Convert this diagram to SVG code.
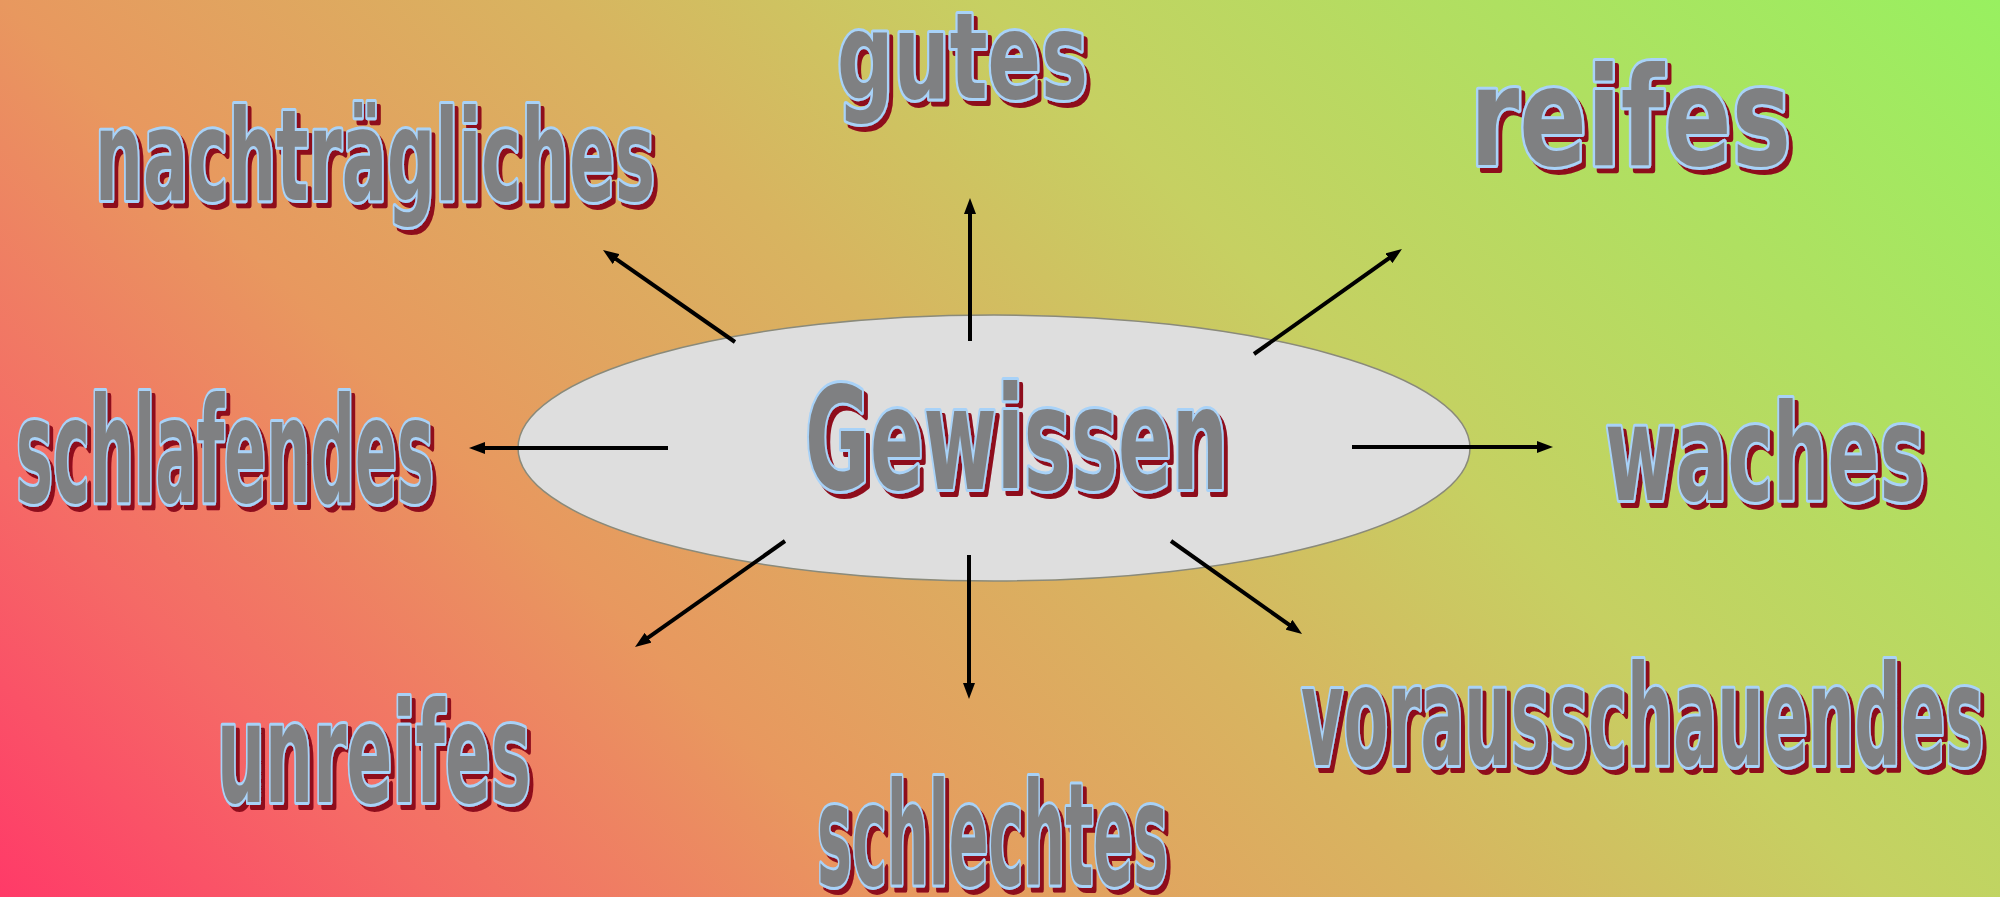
<svg xmlns="http://www.w3.org/2000/svg" width="2000" height="897" viewBox="0 0 2000 897">
<style>
.lbl{font-family:"Liberation Sans Narrow","DejaVu Sans Condensed","Liberation Sans",sans-serif;font-weight:bold;filter:url(#shadow)}
.tx{fill:#7f8082;stroke:#a8d2f8;stroke-width:6;paint-order:stroke;stroke-linejoin:round}
.con{stroke:#000;stroke-width:4;fill:none;marker-end:url(#ah)}
</style>
<defs>
<linearGradient id="bg" gradientUnits="userSpaceOnUse" x1="0" y1="897" x2="1448" y2="-551">
<stop offset="0" stop-color="#ff3a68"/>
<stop offset="0.15" stop-color="#f56a66"/>
<stop offset="0.31" stop-color="#e8985f"/>
<stop offset="0.5" stop-color="#d8b460"/>
<stop offset="0.65" stop-color="#c6d062"/>
<stop offset="1" stop-color="#98f060"/>
</linearGradient>
<filter id="shadow" x="-5%" y="-15%" width="112%" height="135%">
<feFlood flood-color="#8e0a1c"/>
<feComposite in2="SourceAlpha" operator="in"/>
<feOffset dx="4" dy="5"/>
<feMerge><feMergeNode/><feMergeNode in="SourceGraphic"/></feMerge>
</filter>
<marker id="ah" viewBox="0 0 16 12" refX="6" refY="6" markerUnits="userSpaceOnUse" markerWidth="16" markerHeight="12" orient="auto">
<path d="M0,0 L16,6 L0,12 z" fill="#000"/>
</marker>
</defs>
<rect x="0" y="0" width="2000" height="897" fill="url(#bg)"/>
<g id="center">
<ellipse cx="994" cy="448" rx="476" ry="133" fill="#dedede" stroke="#8a8a7a" stroke-width="1.5"/>
<text class="lbl tx" x="805" y="489" font-size="142" textLength="423" lengthAdjust="spacingAndGlyphs">Gewissen</text>
</g>
<g id="connectors">
<line class="con" x1="970" y1="341" x2="970" y2="208"/>
<line class="con" x1="735" y1="342" x2="611.2" y2="255.7"/>
<line class="con" x1="1254" y1="354" x2="1393.8" y2="254.8"/>
<line class="con" x1="668" y1="448" x2="479" y2="448"/>
<line class="con" x1="1352" y1="447" x2="1543" y2="447"/>
<line class="con" x1="785" y1="541" x2="643.2" y2="641.2"/>
<line class="con" x1="969" y1="555" x2="969" y2="689"/>
<line class="con" x1="1171" y1="541" x2="1293.9" y2="628.2"/>
</g>
<g id="nachtraegliches">
<text class="lbl tx" x="95" y="200" font-size="126" textLength="560" lengthAdjust="spacingAndGlyphs">nachträgliches</text>
</g>
<g id="gutes">
<text class="lbl tx" x="837" y="98" font-size="120" textLength="251" lengthAdjust="spacingAndGlyphs">gutes</text>
</g>
<g id="reifes">
<text class="lbl tx" x="1470" y="165" font-size="138" textLength="321" lengthAdjust="spacingAndGlyphs">reifes</text>
</g>
<g id="schlafendes">
<text class="lbl tx" x="16" y="502" font-size="146" textLength="418" lengthAdjust="spacingAndGlyphs">schlafendes</text>
</g>
<g id="waches">
<text class="lbl tx" x="1605" y="500" font-size="133" textLength="320" lengthAdjust="spacingAndGlyphs">waches</text>
</g>
<g id="unreifes">
<text class="lbl tx" x="217" y="802" font-size="139" textLength="314" lengthAdjust="spacingAndGlyphs">unreifes</text>
</g>
<g id="schlechtes">
<text class="lbl tx" x="817" y="885" font-size="143" textLength="351" lengthAdjust="spacingAndGlyphs">schlechtes</text>
</g>
<g id="vorausschauendes">
<text class="lbl tx" x="1301" y="765" font-size="139" textLength="683" lengthAdjust="spacingAndGlyphs">vorausschauendes</text>
</g>
</svg>
